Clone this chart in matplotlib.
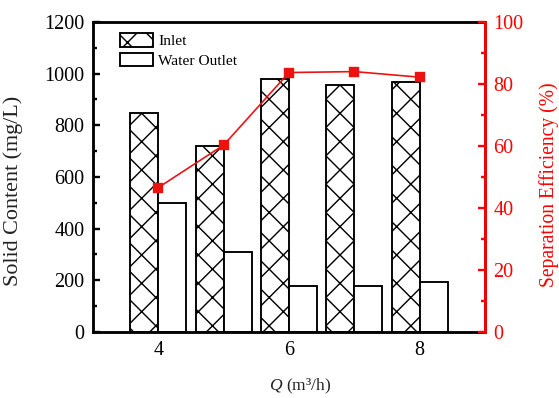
import matplotlib
matplotlib.use("Agg")
import matplotlib.pyplot as plt
import numpy as np

# Data
flow = [4, 5, 6, 7, 8]
inlet = [848, 720, 978, 955, 968]
outlet = [500, 310, 180, 180, 193]
efficiency = [46.6, 60.3, 83.7, 84.0, 82.2]
x_ticks = [4, 6, 8]

DPI = 170
plt.rcParams['font.family'] = ['Liberation Serif', 'DejaVu Serif']
plt.rcParams['mathtext.fontset'] = 'custom'
plt.rcParams['mathtext.rm'] = 'Liberation Serif'
plt.rcParams['mathtext.it'] = 'Liberation Serif:italic'
plt.rcParams['hatch.linewidth'] = 0.6

fig = plt.figure(figsize=(559 / DPI, 398 / DPI), dpi=DPI)
ax = fig.add_axes([93 / 559, 1 - 332 / 398, (485 - 93) / 559, (332 - 22) / 398])

w = 0.43
x = np.array(flow, dtype=float)
ax.bar(x - w / 2, inlet, width=w, facecolor='white', edgecolor='black',
       hatch='xx', linewidth=0.8, label='Inlet', zorder=2)
ax.bar(x + w / 2, outlet, width=w, facecolor='white', edgecolor='black',
       linewidth=0.8, label='Water Outlet', zorder=2)

ax.set_xlim(3, 9)
ax.set_ylim(0, 1200)
ax.set_xticks(x_ticks)
ax.set_xticks([5, 7], minor=True)
ax.set_yticks(range(0, 1201, 200))
ax.set_yticks(range(100, 1200, 200), minor=True)
ax.tick_params(axis='both', which='both', direction='in', labelsize=8.5, width=1.0)
ax.tick_params(axis='both', which='major', length=3)
ax.tick_params(axis='both', which='minor', length=1.8)
ax.tick_params(axis='x', pad=4)
ax.tick_params(top=False, right=False)
for s in ax.spines.values():
    s.set_linewidth(1.2)

ax.set_ylabel('Solid Content (mg/L)', fontsize=9.4, color='#222222')
ax.yaxis.set_label_coords(-0.178, 0.455)
ax.set_xlabel(r'$Q$ (m³/h)', fontsize=7.4, color='#222222')
ax.xaxis.set_label_coords(0.528, -0.145)

ax2 = ax.twinx()
ax2.plot(flow, efficiency, color='#ee1111', linewidth=0.7, marker='s',
         markersize=3, zorder=3)
ax2.set_ylim(0, 100)
ax2.set_yticks(range(0, 101, 20))
ax2.set_yticks(range(10, 100, 20), minor=True)
ax2.tick_params(axis='y', which='both', direction='in', colors='red',
                labelsize=8.5, width=1.0)
ax2.tick_params(axis='y', which='major', length=3)
ax2.tick_params(axis='y', which='minor', length=1.8)
ax2.spines['right'].set_color('red')
ax2.spines['right'].set_linewidth(1.2)
for s in ['top', 'left', 'bottom']:
    ax2.spines[s].set_visible(False)
ax2.set_ylabel('Separation Efficiency (%)', fontsize=8.3, color='red')
ax2.yaxis.set_label_coords(1.138, 0.474)

ax.legend(loc='upper left', bbox_to_anchor=(0.069, 0.965), frameon=False,
          fontsize=6.5, borderpad=0, borderaxespad=0, handlelength=2.15,
          handleheight=1.0, labelspacing=0.3, handletextpad=0.35)

fig.savefig('out.png', dpi=DPI)
